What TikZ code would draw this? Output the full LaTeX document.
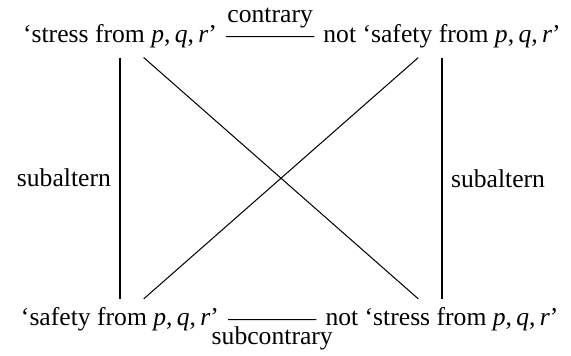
\documentclass[tikz,border=0pt]{standalone}
\usepackage{fontspec}
\setmainfont{Liberation Serif}
\newcommand{\pqr}{\textit{p},\,\textit{q},\,\textit{r}}
\begin{document}
\begin{tikzpicture}[x=0.39pt,y=-0.39pt]
\useasboundingbox (0,0) rectangle (571,356);
% the four corners
\node[anchor=base] (stress) at (120,43) {`stress from \pqr'};
\node[anchor=base] (notsafety) at (442,43) {not `safety from \pqr'};
\node[anchor=base] (safety) at (120,326) {`safety from \pqr'};
\node[anchor=base] (notstress) at (442,326) {not `stress from \pqr'};
% the relations
\draw (stress) -- node[above=0pt] {contrary} (notsafety);
\draw (safety) -- node[below=-1pt] {subcontrary} (notstress);
\draw (stress) -- node[left] {subaltern} (safety);
\draw (notsafety) -- node[right] {subaltern} (notstress);
\draw (stress) -- (notstress);
\draw (notsafety) -- (safety);
\end{tikzpicture}
\end{document}
